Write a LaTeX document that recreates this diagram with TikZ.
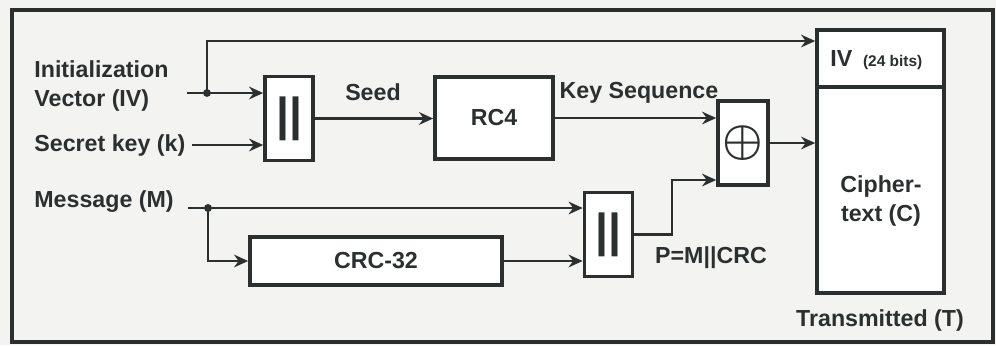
\documentclass[tikz,border=0pt]{standalone}
\usepackage{fontspec}
\usepackage{graphicx}
\setmainfont{Liberation Sans}
\usetikzlibrary{arrows.meta,positioning}

\definecolor{ink}{HTML}{2B2F2F}
\definecolor{paper}{HTML}{F3F3F1}

\begin{document}
\begin{tikzpicture}[x=0.025cm, y=-0.025cm, >={Stealth[length=10pt,width=9pt]},
    draw=ink, line width=2pt,
    every node/.style={font=\bfseries\fontsize{16.5}{20}\selectfont, text=ink},
    blk/.style={draw=ink, line width=2.6pt, fill=white, inner sep=0pt},
    lbl/.style={inner sep=0pt, anchor=west, align=left},
    cat/.style={blk, minimum width=1.2cm, minimum height=2.1cm, font=\bfseries\fontsize{33}{33}\selectfont},
    dot/.style={fill=ink}]

    % Background and frame
    \useasboundingbox[fill=paper] (0,0) rectangle (996,345);
    \draw[line width=2.6pt] (12,10) rectangle (993,342);

    % Inputs
    \node[lbl] (ivlbl) at (33,86) {Initialization\\Vector (IV)};
    \node[lbl] (keylbl) at (33,145) {Secret key (k)};
    \node[lbl] (msglbl) at (33,202) {Message (M)};
    \coordinate (ivin) at (187,93);
    \coordinate (ivj) at (207,93);
    \coordinate (ivtop) at (207,41);
    \coordinate (msgin) at (188,208);
    \coordinate (msgj) at (208,208);
    \coordinate (pbend) at (672,180);

    % Blocks
    \node[cat] (cat1) at (289,118.5) {||};
    \node[blk, minimum width=2.95cm, minimum height=2.05cm] (rc4) at (494,118) {RC4};
    \node[blk, minimum width=1.25cm, minimum height=2.1cm, font=\fontsize{24}{24}\selectfont\boldmath] (xor) at (743,143) {\scalebox{1.3}{$\oplus$}};
    \node[cat] (cat2) at (608.5,234.5) {||};
    \node[blk, minimum width=6.3cm, minimum height=1.2cm] (crc) at (376,261) {CRC-32};
    \node[blk, minimum width=3.175cm, minimum height=6.575cm] (trans) at (880.5,161.5) {};
    \draw[line width=2.6pt] (trans.west |- 0,87) -- (trans.east |- 0,87);

    % Transmitted frame
    \node[lbl] (ivfield) at (829,60) {IV {\fontsize{11}{12}\selectfont\ (24 bits)}};
    \node[align=center, inner sep=0pt] (cipher) at (881,201) {Cipher-\\text (C)};
    \node[inner sep=0pt] (transm) at (880,320) {Transmitted (T)};

    % Connections
    \draw[->] (ivin) -- (ivin -| cat1.west);
    \draw[->] (ivj) -- (ivtop) -- (ivtop -| trans.west);
    \draw[->] ([xshift=4pt]keylbl.east) -- (keylbl.east -| cat1.west);
    \draw[->] (cat1.east) -- (rc4.west |- cat1.east);
    \draw[->] (rc4.east) -- (rc4.east -| xor.west);
    \draw[->] (xor.east) -- (xor.east -| trans.west);
    \draw[->] (msgin) -- (msgin -| cat2.west);
    \draw[->] (msgj) |- (crc.west);
    \draw[->] (crc.east) -- (crc.east -| cat2.west);
    \draw[->] (cat2.east) -| (pbend) -- (pbend -| xor.west);
    \fill[dot] (ivj) circle[radius=2.8pt];
    \fill[dot] (msgj) circle[radius=2.8pt];

    % Connector labels
    \node (seed) at (373,92) {Seed};
    \node (keyseq) at (639,93) {Key Sequence};
    \node (plbl) at (711,258) {P=M||CRC};
\end{tikzpicture}
\end{document}
